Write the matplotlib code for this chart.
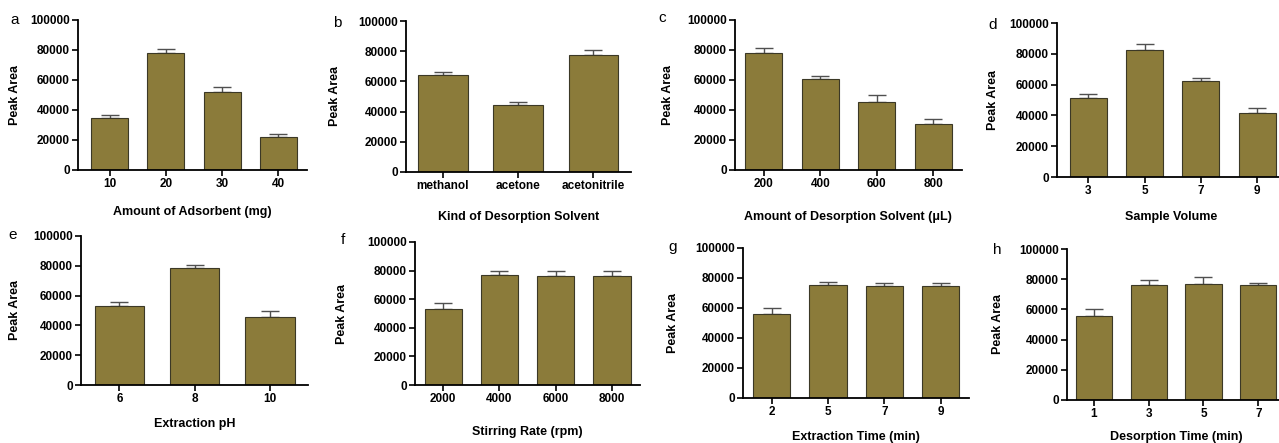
import matplotlib
matplotlib.use('Agg')
import matplotlib.pyplot as plt
import numpy as np

plt.rcParams['font.family'] = ['Liberation Sans', 'DejaVu Sans']

# --- data (means and upper error) ---
adsorbent_cats = ['10', '20', '30', '40']
adsorbent_vals = [34500, 78000, 52000, 22000]
adsorbent_err = [1900, 2800, 3200, 2000]

solvent_cats = ['methanol', 'acetone', 'acetonitrile']
solvent_vals = [64000, 44200, 77300]
solvent_err = [2000, 2200, 3500]

solvent_vol_cats = ['200', '400', '600', '800']
solvent_vol_vals = [78300, 61000, 45100, 30900]
solvent_vol_err = [2800, 1900, 5100, 2900]

sample_vol_cats = ['3', '5', '7', '9']
sample_vol_vals = [51100, 82300, 62400, 41800]
sample_vol_err = [3000, 4100, 2200, 2800]

ph_cats = ['6', '8', '10']
ph_vals = [52900, 78700, 45800]
ph_err = [2700, 2000, 4200]

stirring_cats = ['2000', '4000', '6000', '8000']
stirring_vals = [53300, 76800, 76200, 76200]
stirring_err = [4200, 3100, 3200, 3200]

ext_time_cats = ['2', '5', '7', '9']
ext_time_vals = [56200, 75500, 74900, 74700]
ext_time_err = [3600, 2000, 2000, 2200]

des_time_cats = ['1', '3', '5', '7']
des_time_vals = [55900, 76100, 76900, 76100]
des_time_err = [4600, 3300, 4300, 1700]

panels = [
    ('a', 'Amount of Adsorbent (mg)', adsorbent_cats, adsorbent_vals, adsorbent_err),
    ('b', 'Kind of Desorption Solvent', solvent_cats, solvent_vals, solvent_err),
    ('c', 'Amount of Desorption Solvent (\u03bcL)', solvent_vol_cats, solvent_vol_vals, solvent_vol_err),
    ('d', 'Sample Volume', sample_vol_cats, sample_vol_vals, sample_vol_err),
    ('e', 'Extraction pH', ph_cats, ph_vals, ph_err),
    ('f', 'Stirring Rate (rpm)', stirring_cats, stirring_vals, stirring_err),
    ('g', 'Extraction Time (min)', ext_time_cats, ext_time_vals, ext_time_err),
    ('h', 'Desorption Time (min)', des_time_cats, des_time_vals, des_time_err),
]

# layout in pixels: axis left, top, bottom, category spacing, xmin,
# ylabel x, xlabel y, letter x, letter y
layout = [
    (78, 20, 170, 56.3, -0.56, 15, 212, 15, 20),
    (406, 21, 172, 75.25, -0.49, 335, 217, 337, 23),
    (735, 20, 170, 56.5, -0.51, 668, 217, 662, 18),
    (1057, 23, 177, 56.2, -0.56, 993, 217, 993, 25),
    (81, 236, 385, 75.25, -0.51, 15, 424, 13, 235),
    (415, 242, 385, 56.3, -0.50, 342, 432, 343, 240),
    (743, 248, 398, 56.3, -0.51, 673, 437, 673, 247),
    (1067, 249, 400, 54.8, -0.49, 998, 437, 997, 250),
]

W, H = 1279, 443
bar_color = '#8b7b3a'

fig = plt.figure(figsize=(W / 100, H / 100), dpi=100)

for (letter, xlabel, cats, vals, err), (left, top, bottom, sp, xmin, ylx, xly, lx, ly) in zip(panels, layout):
    n = len(cats)
    xmax = n - 0.5
    width = (xmax - xmin) * sp
    ax = fig.add_axes([left / W, 1 - bottom / H, width / W, (bottom - top) / H])
    x = np.arange(n)
    ax.bar(x, vals, width=0.66, color=bar_color, edgecolor='#3b3826', linewidth=0.8, zorder=2)
    # only the upper half of each error bar is visible above the bar
    ax.errorbar(x, vals, yerr=[np.zeros(n), err], fmt='none', ecolor='#505050',
                elinewidth=1.0, capsize=6.5, capthick=1.0, zorder=1)
    ax.set_xlim(xmin, xmax)
    ax.set_ylim(0, 100000)
    ax.set_yticks(np.arange(0, 100001, 20000))
    ax.set_xticks(x)
    ax.set_xticklabels(cats)
    for s in ['top', 'right']:
        ax.spines[s].set_visible(False)
    for s in ['left', 'bottom']:
        ax.spines[s].set_linewidth(1.3)
    ax.tick_params(axis='both', direction='out', length=4, width=1.2, labelsize=8.5, pad=2)
    for lab in ax.get_xticklabels() + ax.get_yticklabels():
        lab.set_fontweight('bold')
    ax.set_ylabel('Peak Area', fontsize=9, fontweight='bold', va='center')
    ax.yaxis.set_label_coords((ylx - left) / width, 0.5)
    ax.set_xlabel(xlabel, fontsize=9, fontweight='bold', va='center')
    ax.xaxis.set_label_coords(0.5, -(xly - bottom) / (bottom - top))
    fig.text(lx / W, 1 - ly / H, letter, fontsize=11, ha='center', va='center')

fig.savefig('out.png', dpi=100)
